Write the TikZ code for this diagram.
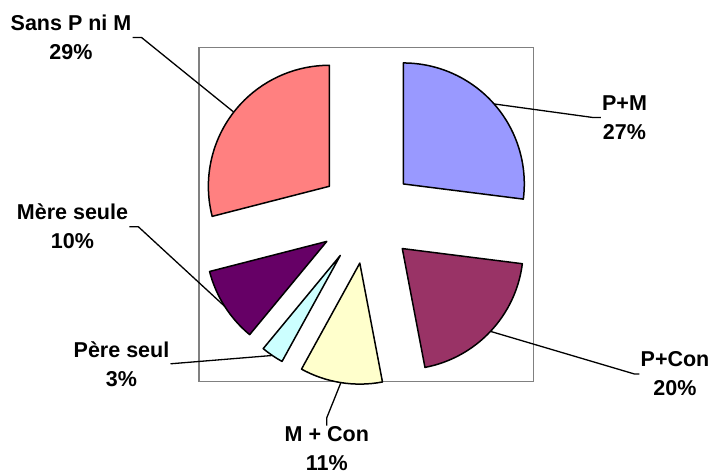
\documentclass[tikz,border=0pt]{standalone}
\usepackage{fontspec}
\setmainfont{Liberation Sans}

\definecolor{pmcol}{HTML}{9999FF}
\definecolor{pccol}{HTML}{993366}
\definecolor{mccol}{HTML}{FFFFCC}
\definecolor{pecol}{HTML}{CCFFFF}
\definecolor{mecol}{HTML}{660066}
\definecolor{spcol}{HTML}{FF8080}

\begin{document}
\begin{tikzpicture}[x=1pt, y=1pt,
    slice/.style={draw=black, line width=1.5pt, line join=round},
    lbl/.style={align=center, inner sep=1pt,
        font=\fontsize{21.5}{29}\selectfont\bfseries},
    leader/.style={draw=black, line width=1.3pt}]

    \useasboundingbox (0,0) rectangle (714,474);

    % Plot area
    \draw[gray, line width=1.4pt] (199,92.3) rectangle (533.3,426.7);

    % Slices
    \begin{scope}[shift={(367.3,258.3)}]
    \foreach \a/\b/\c/\n in {90/-7.2/pmcol/pm, -7.2/-79.2/pccol/pc,
        -79.2/-118.8/mccol/mc, -118.8/-129.6/pecol/pe,
        -129.6/-165.6/mecol/me, -165.6/-270/spcol/sp}
    {
        \pgfmathsetmacro{\m}{(\a+\b)/2}
        \draw[slice, fill=\c] (\m:48) -- ++(\a:121)
            arc[start angle=\a, end angle=\b, radius=121] -- cycle;
        \coordinate (\n) at (\m:169);
    }
    \end{scope}

    % Labels
    \node[lbl] (spL) at (71,436.5) {Sans P ni M\\29\%};
    \node[lbl] (pmL) at (624.5,356.5) {P+M\\27\%};
    \node[lbl] (pcL) at (675,100) {P+Con\\20\%};
    \node[lbl] (mcL) at (326.8,25) {M + Con\\11\%};
    \node[lbl] (peL) at (121.5,110.2) {Père seul\\3\%};
    \node[lbl] (meL) at (72.5,247.3) {Mère seule\\10\%};

    % Lines
    \draw[leader] (spL.east) -- ++(9,0) -- (sp);
    \draw[leader] (meL.east) -- ++(9,0) -- (me);
    \draw[leader] (peL.east) -- (pe);
    \draw[leader] (mcL.north) -- ++(0,8) -- (mc);
    \draw[leader] (pcL.west) -- ++(-5,0) -- (pc);
    \draw[leader] (pmL.west) -- ++(-8,0) -- (pm);

\end{tikzpicture}
\end{document}
